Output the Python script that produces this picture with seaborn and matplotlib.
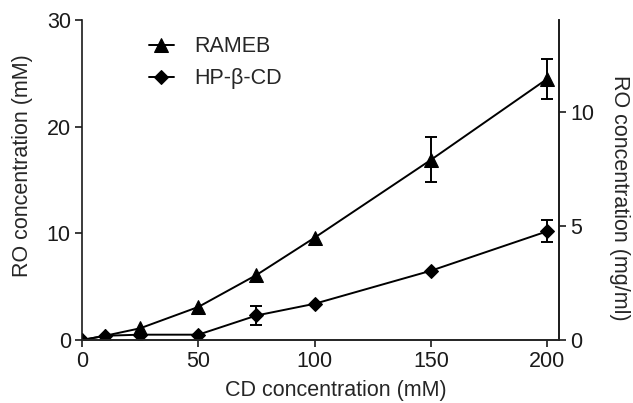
import pandas as pd
import seaborn as sns
import matplotlib.pyplot as plt

# data (RO concentration in mM)
cd_conc = [0, 10, 25, 50, 75, 100, 150, 200]
rameb = [0, 0.4, 1.1, 3.1, 6.1, 9.6, 16.9, 24.5]
hp_b_cd = [0, 0.4, 0.5, 0.5, 2.3, 3.4, 6.5, 10.2]

# error bars only where visible
rameb_err_x = [150, 200]
rameb_err = [2.1, 1.9]
hp_err_x = [75, 200]
hp_err = [0.85, 1.05]

mg_per_mM = 0.468

sns.set_theme(style="ticks")
plt.rcParams['font.family'] = ['Liberation Sans', 'DejaVu Sans']
fs = 15.5

df = pd.DataFrame({'cd': cd_conc, 'RAMEB': rameb, 'HP-β-CD': hp_b_cd})

fig = plt.figure(figsize=(6.33, 4.03), dpi=100)
ax = fig.add_axes([0.1295, 0.1563, 0.7535, 0.7937])

sns.lineplot(data=df, x='cd', y='RAMEB', ax=ax, color='black', marker='^',
             markersize=10, linewidth=1.4, markeredgecolor='black', label='RAMEB')
sns.lineplot(data=df, x='cd', y='HP-β-CD', ax=ax, color='black', marker='D',
             markersize=7, linewidth=1.4, markeredgecolor='black', label='HP-β-CD')

r_y = [rameb[cd_conc.index(x)] for x in rameb_err_x]
h_y = [hp_b_cd[cd_conc.index(x)] for x in hp_err_x]
ax.errorbar(rameb_err_x, r_y, yerr=rameb_err, fmt='none', ecolor='black',
            elinewidth=1.4, capsize=4.5, capthick=1.4)
ax.errorbar(hp_err_x, h_y, yerr=hp_err, fmt='none', ecolor='black',
            elinewidth=1.4, capsize=4.5, capthick=1.4)

ax.set_xlim(0, 205)
ax.set_ylim(0, 30)
ax.set_xticks([0, 50, 100, 150, 200])
ax.set_yticks([0, 10, 20, 30])
ax.set_xlabel('CD concentration (mM)', fontsize=fs)
ax.set_ylabel('RO concentration (mM)', fontsize=fs)
ax.xaxis.set_label_coords(0.533, -0.125)
ax.yaxis.set_label_coords(-0.103, 0.545)
ax.tick_params(direction='out', length=5, width=1.2, labelsize=fs, colors='#1a1a1a', pad=3)
for s in ['left', 'bottom', 'right']:
    ax.spines[s].set_linewidth(1.2)
    ax.spines[s].set_color('#1a1a1a')
ax.spines['top'].set_visible(False)

# right axis in mg/ml
ax2 = ax.twinx()
ax2.set_ylim(0, 30 * mg_per_mM)
ax2.set_yticks([0, 5, 10])
ax2.set_ylabel('RO concentration (mg/ml)', fontsize=fs, rotation=270)
ax2.yaxis.set_label_coords(1.149, 0.445)
ax2.tick_params(direction='out', length=5, width=1.2, labelsize=fs, colors='#1a1a1a', pad=3)
ax2.spines['right'].set_linewidth(1.2)
ax2.spines['right'].set_color('#1a1a1a')
ax2.spines['top'].set_visible(False)
ax2.spines['left'].set_visible(False)

ax.legend(loc='upper left', bbox_to_anchor=(0.099, 1.01), frameon=False,
          handlelength=1.2, fontsize=fs, labelspacing=0.5, handletextpad=0.9)

fig.savefig('out.png', dpi=100)
